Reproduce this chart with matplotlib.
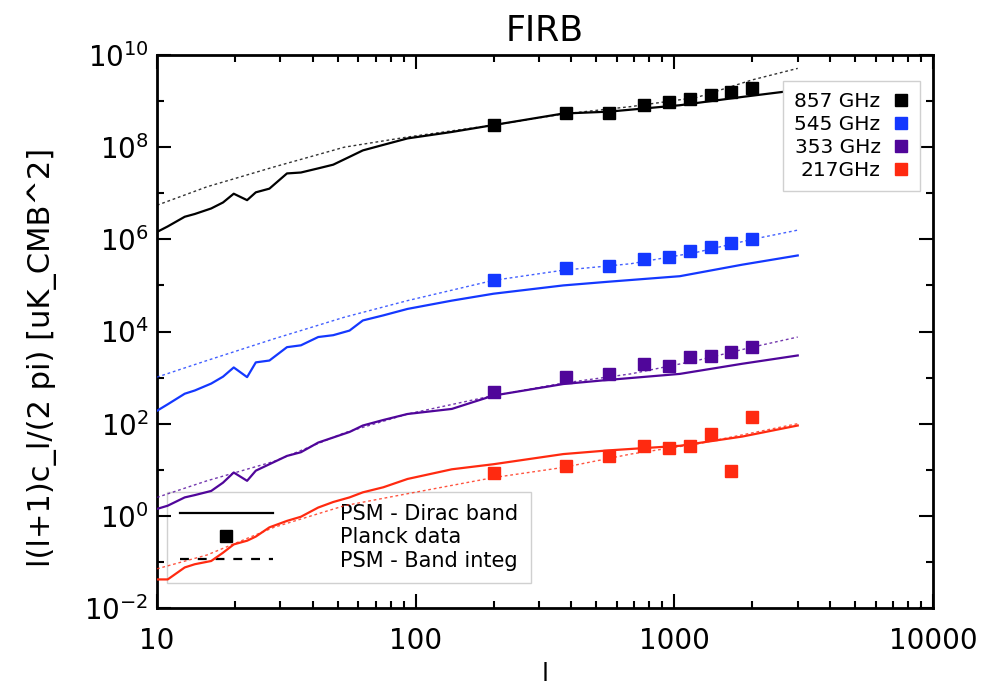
import numpy as np
import matplotlib
matplotlib.use("Agg")
import matplotlib.pyplot as plt
from matplotlib.lines import Line2D
from matplotlib.ticker import FixedLocator, NullFormatter, FuncFormatter

plt.rcParams['font.family'] = ['DejaVu Sans']

# ---------------- data (log10 of l(l+1)C_l/2pi) ----------------
planck_ell = [200, 380, 560, 760, 950, 1150, 1380, 1650, 2000]
planck_857 = [8.48, 8.75, 8.74, 8.91, 8.98, 9.04, 9.13, 9.20, 9.28]
planck_545 = [5.12, 5.38, 5.43, 5.58, 5.62, 5.75, 5.83, 5.91, 6.00]
planck_353 = [2.68, 3.01, 3.08, 3.30, 3.26, 3.44, 3.46, 3.55, 3.66]
planck_217 = [0.94, 1.09, 1.30, 1.52, 1.48, 1.52, 1.78, 0.98, 2.14]

dirac_ell = [10, 11, 12.8, 14, 16.2, 18, 19.8, 22.3, 24.1, 27.2, 31.8, 36, 42, 48,
             55.5, 62.5, 75, 93, 138, 200, 372, 556, 1050, 1830, 3000]
dirac_857 = [6.16, 6.28, 6.49, 6.55, 6.67, 6.80, 6.99, 6.85, 7.02, 7.10, 7.43, 7.45, 7.54, 7.62,
             7.79, 7.93, 8.05, 8.19, 8.33, 8.48, 8.73, 8.77, 8.91, 9.09, 9.24]
dirac_545 = [2.28, 2.42, 2.65, 2.72, 2.87, 3.02, 3.22, 3.01, 3.33, 3.37, 3.66, 3.70, 3.88, 3.92,
             4.02, 4.24, 4.35, 4.49, 4.67, 4.82, 5.00, 5.08, 5.20, 5.45, 5.65]
dirac_353 = [0.15, 0.22, 0.40, 0.45, 0.54, 0.72, 0.94, 0.76, 0.98, 1.12, 1.30, 1.38, 1.59, 1.70,
             1.82, 1.96, 2.08, 2.21, 2.32, 2.61, 2.86, 2.95, 3.08, 3.30, 3.48]
dirac_217 = [-1.38, -1.38, -1.12, -1.05, -0.98, -0.80, -0.62, -0.54, -0.45, -0.25, -0.11, -0.02, 0.18, 0.30,
             0.40, 0.51, 0.62, 0.80, 1.01, 1.12, 1.34, 1.42, 1.52, 1.72, 1.96]

integ_ell = [10, 15.6, 28.3, 53, 93, 200, 372, 678, 1223, 2000, 3000]
integ_857 = [6.74, 7.14, 7.57, 8.00, 8.22, 8.48, 8.72, 8.88, 9.08, 9.46, 9.71]
integ_545 = [3.01, 3.37, 3.84, 4.31, 4.67, 5.11, 5.33, 5.47, 5.72, 6.00, 6.20]
integ_353 = [0.40, 0.76, 1.18, 1.80, 2.21, 2.61, 2.88, 3.08, 3.37, 3.66, 3.88]
integ_217 = [-1.15, -0.85, -0.25, 0.22, 0.48, 0.83, 1.05, 1.34, 1.56, 1.80, 2.00]

bands = ["857 GHz", "545 GHz", "353 GHz", "217GHz"]
colors = ["#000000", "#1438ff", "#50069a", "#ff2a10"]

planck = [planck_857, planck_545, planck_353, planck_217]
dirac = [dirac_857, dirac_545, dirac_353, dirac_217]
integ = [integ_857, integ_545, integ_353, integ_217]

# ---------------- figure ----------------
fig = plt.figure(figsize=(9.82, 6.92), dpi=100)
ax = fig.add_axes([157/982, 1-608/692, (933-157)/982, (608-55)/692])
ax.set_xscale('log')
ax.set_yscale('log')

for c, d, i, p in zip(colors, dirac, integ, planck):
    ax.plot(dirac_ell, 10**np.array(d), color=c, lw=1.6, zorder=3)
    ax.plot(integ_ell, 10**np.array(i), color=c, lw=1.0, ls=(0, (2, 2)), alpha=0.8, zorder=3)
    ax.plot(planck_ell, 10**np.array(p), ls='none', marker='s', ms=8, color=c, zorder=4)

ax.set_xlim(10, 10000)
ax.set_ylim(1e-2, 1e10)

ax.xaxis.set_major_locator(FixedLocator([10, 100, 1000, 10000]))
ax.xaxis.set_minor_locator(FixedLocator([m * 10**e for e in range(1, 4) for m in range(2, 10)]))
ax.xaxis.set_major_formatter(FuncFormatter(lambda v, p: "%d" % round(v)))
ax.xaxis.set_minor_formatter(NullFormatter())
ax.yaxis.set_major_locator(FixedLocator([10.0**e for e in range(-2, 11, 2)]))
ax.yaxis.set_minor_locator(FixedLocator([10.0**e for e in range(-1, 10, 2)]))
ax.yaxis.set_minor_formatter(NullFormatter())

ax.tick_params(which='both', direction='in', top=True, right=True, width=1.5)
ax.tick_params(which='major', length=10, labelsize=20)
ax.tick_params(which='minor', length=5)
ax.tick_params(axis='x', which='major', pad=14)
ax.tick_params(axis='y', which='major', pad=6)
for s in ax.spines.values():
    s.set_linewidth(2)

ax.set_title("FIRB", fontsize=25, pad=10)
ax.set_xlabel("l", fontsize=18)
ax.xaxis.set_label_coords(0.5, -0.097)
ax.set_ylabel("l(l+1)c_l/(2 pi) [uK_CMB^2]", fontsize=22)
ax.yaxis.set_label_coords(-0.129, 0.454)

# lower-left legend
h = [Line2D([], [], color='k', lw=1.6),
     Line2D([], [], color='k', ls='none', marker='s', ms=8),
     Line2D([], [], color='k', lw=1.6, ls=(0, (4, 4)))]
leg1 = ax.legend(h, ["PSM - Dirac band", "Planck data", "PSM - Band integ"],
                 loc='lower left', bbox_to_anchor=(0.013, 0.045), borderaxespad=0,
                 fontsize=15, handlelength=4.5, handletextpad=3.2, labelspacing=0.15,
                 borderpad=0.6, frameon=True, fancybox=False, edgecolor='#d0d0d0',
                 facecolor='white', framealpha=1)
leg1.set_zorder(1.5)
ax.add_artist(leg1)

# upper-right legend
h2 = [Line2D([], [], color=c, ls='none', marker='s', ms=8) for c in colors]
leg2 = ax.legend(h2, bands, loc='upper right', bbox_to_anchor=(0.983, 0.953), borderaxespad=0,
                 fontsize=14.5, markerfirst=False, handlelength=0.8, handletextpad=0.6,
                 labelspacing=0.2, borderpad=0.55, frameon=True, fancybox=False,
                 edgecolor='#d0d0d0', facecolor='white', framealpha=1)
leg2.set_zorder(5)
for t in leg2.get_texts():
    t.set_ha('right')

fig.savefig("out.png", dpi=100)
